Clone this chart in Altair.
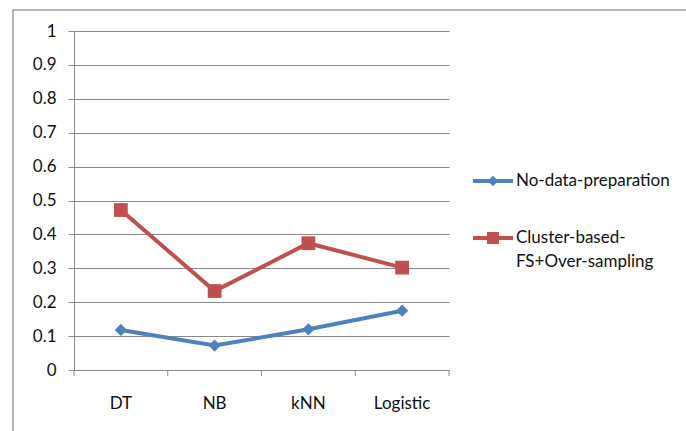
import altair as alt
import pandas as pd

# Classifiers on the x axis and the score of each preparation approach
classifiers = ["DT", "NB", "kNN", "Logistic"]
series_names = ["No-data-preparation", "Cluster-based-FS+Over-sampling"]
no_prep = [0.118, 0.072, 0.120, 0.175]
cluster_fs = [0.472, 0.233, 0.374, 0.302]
y_ticks = [0, 0.1, 0.2, 0.3, 0.4, 0.5, 0.6, 0.7, 0.8, 0.9, 1]

colors = ["#4F81BD", "#C0504D"]
shapes = ["diamond", "square"]
marker_sizes = [150, 190]

FONT = "Lato"
FS = 17
TEXT = "#111111"
GRID = "#8A8A8A"
W, H = 375, 339

rows = []
for name, vals in zip(series_names, [no_prep, cluster_fs]):
    for c, v in zip(classifiers, vals):
        rows.append({"classifier": c, "series": name, "value": v})
df = pd.DataFrame(rows)

x_scale = alt.Scale(type="band", domain=classifiers, paddingInner=0, paddingOuter=0)
y_scale = alt.Scale(domain=[0, 1], nice=False)

x_axis = alt.Axis(title=None, labelAngle=0, ticks=False, labelPadding=25,
                  domainColor=GRID, labelFont=FONT, labelFontSize=FS, labelColor=TEXT)
y_axis = alt.Axis(title=None, values=y_ticks, format=".1~f", labelOverlap=False,
                  grid=True, gridColor=GRID, domainColor=GRID, tickColor=GRID,
                  tickSize=6, labelPadding=12, labelFont=FONT, labelFontSize=FS,
                  labelColor=TEXT)

X = alt.X("classifier:N", scale=x_scale, sort=classifiers, axis=x_axis)
Y = alt.Y("value:Q", scale=y_scale, axis=y_axis)

base = alt.Chart(df)
layers = []

# Category ticks sit on the band edges, below the x axis
tick_data = pd.DataFrame({"classifier": classifiers})
layers.append(alt.Chart(tick_data).mark_rule(color=GRID, strokeWidth=1).encode(
    x=alt.X("classifier:N", scale=x_scale, sort=classifiers, bandPosition=0, axis=x_axis),
    y=alt.value(H), y2=alt.value(H + 6),
))
layers.append(alt.Chart(tick_data.head(1)).mark_rule(color=GRID, strokeWidth=1).encode(
    x=alt.value(W), y=alt.value(H), y2=alt.value(H + 6),
))

for name, color, shape, size in zip(series_names, colors, shapes, marker_sizes):
    sub = base.transform_filter(alt.datum.series == name)
    layers.append(sub.mark_line(color=color, strokeWidth=4).encode(x=X, y=Y))
    layers.append(sub.mark_point(shape=shape, filled=True, color=color, size=size,
                                 opacity=1).encode(x=X, y=Y))

# Legend to the right of the plot: line sample with marker, then the name
legend_y = [150, 207]
for name, color, shape, size, ly in zip(series_names, colors, shapes, marker_sizes, legend_y):
    lc = alt.Chart(pd.DataFrame({"name": [name]}))
    layers.append(lc.mark_rule(color=color, strokeWidth=4).encode(
        x=alt.value(399), x2=alt.value(439), y=alt.value(ly)))
    layers.append(lc.mark_point(shape=shape, filled=True, color=color, opacity=1,
                                size=size * 0.75).encode(x=alt.value(419), y=alt.value(ly)))
    layers.append(lc.transform_calculate(
        label="replace(datum.name, 'based-', 'based-\\n')"
    ).mark_text(align="left", baseline="middle", font=FONT, fontSize=FS, color=TEXT,
                lineBreak="\n", lineHeight=24).encode(
        x=alt.value(442), y=alt.value(ly), text="label:N"))

# Outer frame around the chart
frame = alt.Chart(tick_data.head(1)).mark_rect(
    fillOpacity=0, stroke="#9A9A9A", strokeWidth=1.5
).encode(x=alt.value(-61), y=alt.value(-21), x2=alt.value(700), y2=alt.value(500))
layers.insert(0, frame)

chart = alt.layer(*layers).properties(
    width=W, height=H,
    autosize=alt.AutoSizeParams(type="none"),
    padding={"left": 74, "top": 31, "right": 237, "bottom": 61},
    background="white",
).configure_view(stroke=None)

chart.save("out.html", embed_options={"renderer": "svg", "actions": False})
